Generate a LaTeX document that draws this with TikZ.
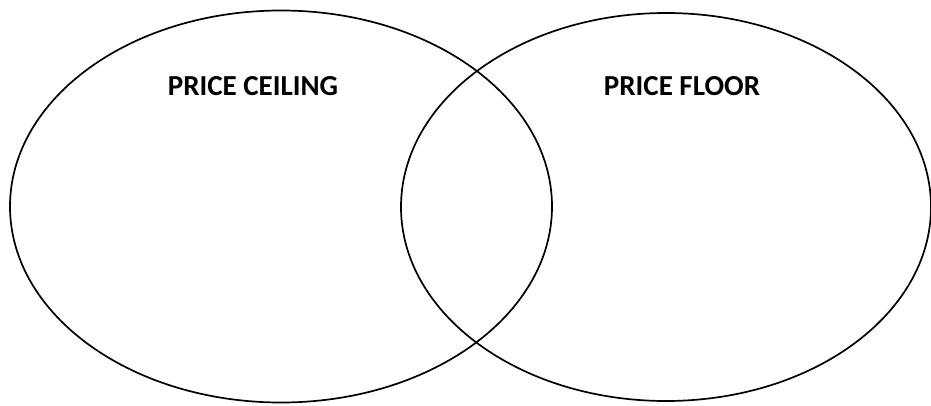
\documentclass[tikz,border=0pt]{standalone}
\usepackage{fontspec}
\setmainfont{Carlito}
\begin{document}
\begin{tikzpicture}[x=1pt,y=1pt,
  ring/.style={draw=black,line width=1.7pt},
  lbl/.style={font=\fontsize{29}{34}\selectfont\bfseries,anchor=base,inner sep=0pt}]
\useasboundingbox (0,0) rectangle (931,405);
\draw[ring] (281,198.5) ellipse [x radius=271, y radius=196];
\draw[ring] (666,198) ellipse [x radius=265, y radius=194];
\node[lbl] (ceiling) at (253,309.5) {PRICE CEILING};
\node[lbl] (floor) at (682,309.5) {PRICE FLOOR};
\end{tikzpicture}
\end{document}
